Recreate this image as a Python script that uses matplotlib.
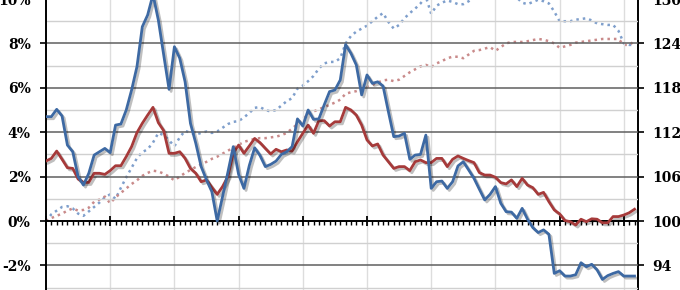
import matplotlib
matplotlib.use("Agg")
import matplotlib.pyplot as plt
import matplotlib.patheffects as pe
from matplotlib.ticker import MultipleLocator, FuncFormatter

# monthly values, month 0 .. 110
blue_rate = [4.70, 4.70, 5.03, 4.73, 3.42, 3.12, 2.00, 1.62, 2.15, 2.97,
             3.12, 3.27, 3.08, 4.32, 4.37, 5.00, 5.90, 6.95, 8.75, 9.28,
             10.2, 9.05, 7.48, 5.93, 7.85, 7.33, 6.27, 4.40, 3.50, 2.45,
             1.85, 1.32, 0.00, 1.10, 2.20, 3.35, 2.10, 1.47, 2.50, 3.30,
             2.95, 2.45, 2.55, 2.70, 3.00, 3.12, 3.35, 4.60, 4.28, 5.00,
             4.58, 4.60, 5.23, 5.83, 5.90, 6.35, 7.95, 7.55, 7.03, 5.68,
             6.58, 6.20, 6.27, 6.08, 4.92, 3.80, 3.83, 3.95, 2.78, 2.97,
             3.00, 3.87, 1.47, 1.77, 1.80, 1.47, 1.77, 2.48, 2.67, 2.30,
             1.92, 1.43, 0.95, 1.20, 1.55, 0.80, 0.42, 0.40, 0.12, 0.57,
             0.08, -0.30, -0.52, -0.40, -0.60, -2.36, -2.24, -2.48, -2.48, -2.42,
             -1.88, -2.06, -1.95, -2.20, -2.63, -2.46, -2.36, -2.28, -2.48, -2.48,
             -2.48]

red_rate = [2.70, 2.82, 3.15, 2.78, 2.40, 2.37, 1.89, 1.74, 1.74, 2.15,
            2.15, 2.10, 2.27, 2.49, 2.49, 2.90, 3.35, 3.98, 4.40, 4.77,
            5.12, 4.43, 4.07, 3.05, 3.05, 3.12, 2.82, 2.37, 2.15, 1.77,
            1.85, 1.52, 1.20, 1.55, 2.00, 3.05, 3.42, 3.05, 3.38, 3.72,
            3.53, 3.27, 3.02, 3.23, 3.12, 3.20, 3.15, 3.57, 3.95, 4.32,
            3.95, 4.52, 4.52, 4.28, 4.47, 4.47, 5.12, 5.00, 4.77, 4.32,
            3.65, 3.38, 3.47, 2.97, 2.67, 2.37, 2.45, 2.45, 2.27, 2.67,
            2.75, 2.63, 2.63, 2.82, 2.82, 2.45, 2.78, 2.93, 2.82, 2.72,
            2.63, 2.18, 2.07, 2.07, 1.97, 1.73, 1.67, 1.85, 1.55, 1.92,
            1.62, 1.50, 1.20, 1.29, 0.87, 0.50, 0.32, 0.02, -0.03, -0.18,
            0.08, -0.03, 0.10, 0.08, -0.08, -0.08, 0.20, 0.20, 0.27, 0.37,
            0.53]

blue_index = [100.0, 100.9, 101.4, 101.9, 102.0, 101.7, 101.0, 100.7, 101.3, 101.9,
              102.5, 103.2, 103.6, 103.0, 104.5, 105.9, 107.2, 108.5, 109.3, 109.7,
              110.6, 111.9, 111.6, 110.9, 110.1, 111.3, 112.2, 111.9, 111.7, 111.9,
              112.1, 111.9, 112.1, 112.6, 113.1, 113.4, 113.5, 114.0, 114.6, 115.3,
              115.4, 115.0, 114.8, 115.0, 115.6, 116.2, 116.6, 117.9, 118.3, 118.9,
              119.6, 120.6, 121.3, 121.5, 121.5, 122.0, 124.0, 125.0, 125.6, 126.0,
              126.4, 127.0, 127.6, 128.1, 126.9, 126.0, 126.5, 127.4, 128.1, 128.7,
              129.4, 130.3, 128.0, 129.1, 129.5, 129.8, 129.6, 129.3, 129.3, 129.7,
              130.3, 130.6, 130.8, 130.8, 131.0, 131.0, 131.0, 130.5, 130.2, 129.5,
              129.3, 129.6, 129.9, 129.7, 129.4, 128.3, 127.0, 127.0, 127.0, 127.2,
              127.3, 127.4, 127.1, 126.7, 126.6, 126.5, 126.5, 125.7, 124.0, 123.8,
              123.8]

red_index = [100.0, 100.4, 100.7, 101.0, 101.4, 101.7, 101.4, 101.5, 101.8, 102.6,
             102.9, 103.3, 102.4, 103.2, 103.8, 104.4, 105.0, 105.5, 106.1, 106.5,
             106.8, 106.7, 106.4, 106.0, 105.5, 106.0, 106.5, 106.9, 107.3, 107.65,
             108.0, 108.4, 108.7, 109.1, 109.5, 109.9, 110.3, 110.7, 110.9, 111.1,
             111.2, 111.2, 111.3, 111.4, 111.6, 111.9, 112.5, 113.1, 113.8, 114.5,
             114.8, 115.1, 115.4, 115.7, 116.0, 116.4, 117.2, 117.4, 117.55, 117.8,
             118.1, 118.4, 118.7, 119.0, 119.1, 118.9, 119.1, 119.6, 120.1, 120.5,
             120.9, 121.1, 120.8, 121.3, 121.6, 122.0, 122.2, 122.2, 122.0, 122.5,
             123.0, 123.1, 123.3, 123.5, 123.0, 123.5, 124.0, 124.2, 124.2, 124.2,
             124.3, 124.45, 124.6, 124.5, 124.3, 124.0, 123.4, 123.6, 123.8, 124.1,
             124.2, 124.3, 124.4, 124.5, 124.6, 124.6, 124.6, 124.6, 123.8, 123.8,
             124.3]

left_ticks = [-2, 0, 2, 4, 6, 8, 10]
right_ticks = [94, 100, 106, 112, 118, 124, 130]

months = list(range(len(blue_rate)))

BLUE = "#3d69a3"
RED = "#a63a3a"
BLUE_DOT = "#7f9fcc"
RED_DOT = "#c98a8a"

plt.rcParams["axes.unicode_minus"] = False

fig = plt.figure(figsize=(6.8, 2.9), dpi=100)
# axes run past the top and bottom of the picture (chart is cropped)
ax = fig.add_axes([46 / 680, -0.0683, 592 / 680, 1.2248])
ax2 = ax.twinx()

ax.set_xlim(0, 110.65)
ax.set_ylim(-4, 12)
ax2.set_ylim(88, 136)

# grid
for v in range(-4, 13):
    if v % 2 == 0:
        if v != 0:
            ax.axhline(v, color="#5f5f5f", lw=1.1, zorder=1)
    else:
        ax.axhline(v, color="#d0d0d0", lw=1.0, zorder=0.9)
for m in range(12, 111, 12):
    ax.axvline(m, color="#dddddd", lw=1.0, zorder=0.8)

shadow = [pe.SimpleLineShadow(offset=(1.5, -1.5), shadow_color="k", alpha=0.25),
          pe.Normal()]
ax2.plot(months, blue_index, color=BLUE_DOT, lw=1.8, ls=(0, (1, 1.6)), zorder=2)
ax2.plot(months, red_index, color=RED_DOT, lw=1.8, ls=(0, (1, 1.6)), zorder=2)
ax.plot(months, red_rate, color=RED, lw=2.0, zorder=4, path_effects=shadow)
ax.plot(months, blue_rate, color=BLUE, lw=2.0, zorder=5, path_effects=shadow)

ax.set_zorder(ax2.get_zorder() + 1)
ax.patch.set_visible(False)

# axis styling
ax.spines["top"].set_visible(False)
ax.spines["bottom"].set_position(("data", 0))
ax.spines["bottom"].set_linewidth(1.4)
ax.spines["left"].set_linewidth(1.4)
ax2.spines["right"].set_linewidth(1.4)
for s in ["top", "left", "bottom"]:
    ax2.spines[s].set_visible(False)
ax.spines["right"].set_visible(False)

ax.xaxis.set_major_locator(MultipleLocator(12))
ax.xaxis.set_minor_locator(MultipleLocator(1))
ax.tick_params(axis="x", which="major", direction="inout", length=7, width=1.3,
               labelbottom=False)
ax.tick_params(axis="x", which="minor", direction="out", length=3, width=1.0)

font = {"family": "DejaVu Serif", "weight": "bold", "size": 10}
ax.set_yticks(left_ticks)
ax.yaxis.set_major_formatter(FuncFormatter(lambda v, p: "%d%%" % v))
ax.tick_params(axis="y", direction="out", length=4, width=1.2, pad=7)
for lab in ax.get_yticklabels():
    lab.set_fontproperties(font)

ax2.set_yticks(right_ticks)
ax2.yaxis.set_major_formatter(FuncFormatter(lambda v, p: "%d" % v))
ax2.tick_params(axis="y", direction="out", length=4, width=1.2, pad=6)
for lab in ax2.get_yticklabels():
    lab.set_fontproperties(font)

fig.savefig("out.png", dpi=100)
